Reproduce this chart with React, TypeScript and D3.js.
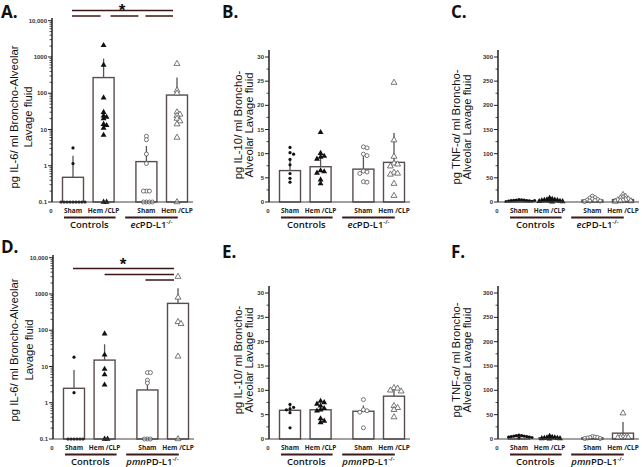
import React from 'react'
import * as d3 from 'd3'

const FONT = '"Liberation Sans", Arial, sans-serif'
const LABEL_FONT = '"Open Sans", "Liberation Sans", sans-serif'

// x slot of each bar: two control groups, gap, two knockout groups
const groupNames = ['Sham', 'Hem /CLP', 'Sham', 'Hem /CLP']
const slots = [0, 1, 2.4, 3.4]
const markerKinds = ['dot', 'tri', 'ring', 'otri']

// IL-6, ecPD-L1 cohort (log axis)
const il6EcMeans = [0.48, 270, 1.3, 89]
const il6EcErrTop = [1.9, 900, 3.5, 270]
const il6EcPoints = [
  [3.1, 1.15, 0.1, 0.1, 0.1, 0.1, 0.1, 0.1, 0.1, 0.1, 0.1],
  [2100, 600, 75, 30, 24, 22, 20, 14, 13, 11, 7, 0.1, 0.1],
  [6.5, 5.2, 2.1, 1.15, 0.2, 0.2, 0.2, 0.1, 0.1, 0.1, 0.1],
  [650, 120, 100, 30, 26, 24, 20, 17, 14, 6, 0.1],
]

// IL-10, ecPD-L1 cohort
const il10EcMeans = [6.5, 7.3, 6.8, 8.2]
const il10EcErrTop = [9.0, 10.1, 9.7, 14.3]
const il10EcPoints = [
  [11.3, 10.2, 9.9, 8.8, 7.7, 5.9, 4.9, 4.1],
  [14.4, 10.1, 9.5, 9.3, 8.9, 6.5, 6.3, 6.0, 4.6, 3.8],
  [11.4, 11.2, 9.9, 9.6, 6.4, 6.2, 5.9, 4.2, 4.1],
  [24.7, 12.8, 9.4, 8.0, 7.8, 7.4, 6.1, 5.9, 5.7, 3.8, 1.3],
]

// TNF-a, ecPD-L1 cohort
const tnfEcMeans = [3, 3, 4, 5]
const tnfEcErrTop = [4, 4.5, 6.5, 8]
const tnfEcPoints = [
  [5, 4.5, 4, 4, 3.5, 3, 3, 2.5, 2, 1.5, 1, 3],
  [8, 6, 5, 4.5, 4, 3.5, 3, 2.5, 2, 1.5, 1, 0.5],
  [12, 9, 8, 6, 5, 4, 3, 2, 2, 1],
  [15, 11, 9, 8, 6, 5, 4, 3, 2, 2, 1],
]

// IL-6, pmnPD-L1 cohort (log axis)
const il6PmnMeans = [2.5, 15, 2.25, 550]
const il6PmnErrTop = [8, 41, 4.2, 1440]
const il6PmnPoints = [
  [18, 1.9, 0.1, 0.1, 0.1, 0.1, 0.1, 0.1],
  [80, 21, 8.5, 6, 3.1, 0.1, 0.1],
  [6.8, 6.8, 4.2, 3.5, 0.1, 0.1, 0.1],
  [3000, 800, 170, 150, 19, 0.1],
]

// IL-10, pmnPD-L1 cohort
const il10PmnMeans = [5.9, 6.0, 5.7, 8.8]
const il10PmnErrTop = [7.2, 7.0, 6.9, 10.2]
const il10PmnPoints = [
  [7.1, 6.5, 6.2, 6.0, 5.4, 2.3],
  [7.8, 7.5, 7.2, 6.8, 6.3, 6.0, 5.8, 4.2, 3.7, 3.4],
  [8.1, 6.0, 5.8, 5.5, 2.3],
  [10.5, 10.4, 10.0, 9.8, 6.8, 6.4, 6.0, 4.5],
]

// TNF-a, pmnPD-L1 cohort
const tnfPmnMeans = [5, 2.5, 2.5, 12]
const tnfPmnErrTop = [6.5, 3.5, 3.5, 35]
const tnfPmnPoints = [
  [8, 7, 7, 6, 6, 5, 5, 4, 4, 3, 2],
  [6, 4, 3, 3, 2, 2, 1, 1, 0.5],
  [5, 4, 3, 3, 2, 1, 1],
  [53, 3.5, 3, 3, 3, 2.5],
]

const logTicks = [0.1, 1, 10, 100, 1000, 10000]
const logTickLabels = ['0.1', '1', '10', '100', '1000', '10,000']

type PanelDef = {
  letter: string
  letterY: number
  ox: number
  log: boolean
  domain: [number, number]
  range: [number, number]
  axisTop: number
  majorStep?: number
  label: string[]
  labelX: [number, number]
  labelY: number
  strain: string
  means: number[]
  errTop: number[]
  points: number[][]
  step: number
  sig?: { rows: number[]; star: [number, number]; pairs: [number, number, number, number, number][] }
}

// vertical offset of the lower row of panels
const DY = 237

const panels: PanelDef[] = [
  {
    letter: 'A.', letterY: 18, ox: 52, log: true, domain: [0.1, 10000], range: [202, 20.7], axisTop: 18,
    label: ['pg IL-6/ ml Broncho-Alveolar', 'Lavage fluid'], labelX: [14, 27.5], labelY: 117, strain: 'ec',
    means: il6EcMeans, errTop: il6EcErrTop, points: il6EcPoints, step: 3,
    sig: {
      rows: [10.5, 16], star: [122, 16],
      pairs: [[0, 3, 0, -1, -4], [0, 1, 1, -1, -3], [1, 2, 1, 7, -8], [2, 3, 1, -1, -4]],
    },
  },
  {
    letter: 'B.', letterY: 18, ox: 269, log: false, domain: [0, 30], range: [202, 57], axisTop: 50, majorStep: 5,
    label: ['pg IL-10/ ml Broncho-', 'Alveolar Lavage fluid'], labelX: [237.5, 248.5], labelY: 125, strain: 'ec',
    means: il10EcMeans, errTop: il10EcErrTop, points: il10EcPoints, step: 3.6,
  },
  {
    letter: 'C.', letterY: 18, ox: 498, log: false, domain: [0, 300], range: [202, 57], axisTop: 50, majorStep: 50,
    label: ['pg TNF-\u03b1/ ml Broncho-', 'Alveolar Lavage fluid'], labelX: [456, 467], labelY: 127, strain: 'ec',
    means: tnfEcMeans, errTop: tnfEcErrTop, points: tnfEcPoints, step: 2.6,
  },
  {
    letter: 'D.', letterY: 253, ox: 53, log: true, domain: [0.1, 10000], range: [439, 257.7], axisTop: 255,
    label: ['pg IL-6/ ml Broncho-Alveolar', 'Lavage fluid'], labelX: [14, 28.5], labelY: 350, strain: 'pmn',
    means: il6PmnMeans, errTop: il6PmnErrTop, points: il6PmnPoints, step: 3,
    sig: {
      rows: [268.5, 274.5, 280], star: [123, 270],
      pairs: [[0, 3, 0, -1, -4], [1, 3, 1, 0, -4], [2, 3, 2, -2, -4]],
    },
  },
  {
    letter: 'E.', letterY: 258, ox: 269, log: false, domain: [0, 30], range: [439, 293], axisTop: 286, majorStep: 5,
    label: ['pg IL-10/ ml Broncho-', 'Alveolar Lavage fluid'], labelX: [237.5, 248.5], labelY: 360, strain: 'pmn',
    means: il10PmnMeans, errTop: il10PmnErrTop, points: il10PmnPoints, step: 3.6,
  },
  {
    letter: 'F.', letterY: 258, ox: 498, log: false, domain: [0, 300], range: [439, 293], axisTop: 286, majorStep: 50,
    label: ['pg TNF-\u03b1/ ml Broncho-', 'Alveolar Lavage fluid'], labelX: [456, 467], labelY: 360, strain: 'pmn',
    means: tnfPmnMeans, errTop: tnfPmnErrTop, points: tnfPmnPoints, step: 2.6,
  },
]

// simple horizontal dodge so overlapping points spread sideways
function dodge(ys: number[], cx: number, step: number) {
  const placed: { x: number; y: number }[] = []
  ys.forEach(y => {
    for (let k = 0; k < 60; k++) {
      const off = k === 0 ? 0 : (k % 2 ? 1 : -1) * Math.ceil(k / 2) * step
      const px = cx + off
      if (!placed.some(p => Math.abs(p.x - px) < step * 0.95 && Math.abs(p.y - y) < step * 0.95)) {
        placed.push({ x: px, y })
        break
      }
    }
  })
  return placed
}

const triPath = d3.symbol().type(d3.symbolTriangle).size(15)() as string

function Marker({ kind, x, y }: { kind: string; x: number; y: number }) {
  if (kind === 'dot') return <circle cx={x} cy={y} r={1.6} fill="#111" />
  if (kind === 'ring') return <circle cx={x} cy={y} r={2} fill="#fff" stroke="#555" strokeWidth={0.8} />
  if (kind === 'tri') return <path d={triPath} transform={`translate(${x},${y})`} fill="#111" />
  return <path d={triPath} transform={`translate(${x},${y})`} fill="#fff" stroke="#555" strokeWidth={0.8} />
}

function Panel({ p }: { p: PanelDef }) {
  const y: any = p.log
    ? d3.scaleLog().domain(p.domain).range(p.range)
    : d3.scaleLinear().domain(p.domain).range(p.range)
  const x = d3.scaleLinear().domain([0, 3.4]).range([p.ox + 21, p.ox + 125])
  const base = p.range[0]
  const off = base > 300 ? DY : 0

  let majors: number[]
  let minors: number[]
  if (p.log) {
    majors = logTicks
    minors = y.ticks().filter((t: number) => !majors.some(m => Math.abs(m - t) < 1e-9))
  } else {
    majors = d3.range(p.domain[0], p.domain[1] + 0.01, p.majorStep!)
    minors = d3.range(p.domain[0] + p.majorStep! / 2, p.domain[1], p.majorStep!)
  }
  const fmt = (t: number, i: number) => (p.log ? logTickLabels[i] : String(t))
  const barW = 21
  const strainX = (x(2) + x(3)) / 2 + 2
  const ctrlX = (x(0) + x(1)) / 2 + 1

  return (
    <g>
      <text x={p.ox < 100 ? 1 : p.ox - 47} y={p.letterY} fontFamily={LABEL_FONT} fontWeight={700} fontSize={17} fill="#111">
        {p.letter}
      </text>

      {/* y label */}
      {p.label.map((l, i) => (
        <text key={i} transform={`translate(${p.labelX[i]},${p.labelY}) rotate(-90)`} textAnchor="middle"
          dominantBaseline="central" fontFamily={FONT} fontSize={11.3} fill="#111">{l}</text>
      ))}

      {/* bars */}
      {p.means.map((m, i) => (
        <rect key={i} x={x(slots[i]) - barW / 2} y={y(m)} width={barW} height={base - y(m)}
          fill="#fff" stroke="#5a4c4c" strokeWidth={1.4} />
      ))}
      {/* error whiskers */}
      {p.errTop.map((e, i) => (
        <line key={i} x1={x(slots[i])} x2={x(slots[i])} y1={y(p.means[i])} y2={y(e)} stroke="#555" strokeWidth={1.3} />
      ))}
      {/* points */}
      {p.points.map((vals, i) =>
        dodge(vals.map(v => y(v)), x(slots[i]), p.step).map((pt, j) => (
          <Marker key={`${i}-${j}`} kind={markerKinds[i]} x={pt.x} y={pt.y} />
        ))
      )}

      {/* axes */}
      <line x1={p.ox} x2={p.ox + 141} y1={base} y2={base} stroke="#444" strokeWidth={1.2} />
      <line x1={p.ox} x2={p.ox} y1={p.axisTop} y2={base} stroke="#222" strokeWidth={1.5} />
      {majors.map(t => (
        <line key={`M${t}`} x1={p.ox - 4} x2={p.ox} y1={y(t)} y2={y(t)} stroke="#222" strokeWidth={1} />
      ))}
      {minors.map(t => (
        <line key={`m${t}`} x1={p.ox - 2.5} x2={p.ox} y1={y(t)} y2={y(t)} stroke="#222" strokeWidth={0.8} />
      ))}
      {majors.map((t, i) => (
        <text key={`L${t}`} x={p.ox - 5} y={y(t)} dy="0.35em" textAnchor="end" fontFamily={FONT}
          fontSize={6} fontWeight={700} fill="#333">{fmt(t, i)}</text>
      ))}
      <text x={p.ox - 1} y={211 + off} dy="0.35em" textAnchor="middle" fontFamily={FONT} fontSize={6}
        fontWeight={700} fill="#333">0</text>

      {/* group labels */}
      {groupNames.map((g, i) => (
        <text key={i} x={x(slots[i])} y={213 + off} textAnchor="middle" fontFamily={LABEL_FONT} fontSize={6.5}
          fontWeight={700} fill="#222">{g}</text>
      ))}
      <line x1={x(0) - 9} x2={x(1) + 12} y1={217.5 + off} y2={217.5 + off} stroke="#3d1a1a" strokeWidth={2} />
      <line x1={x(2) - 9} x2={x(3) + 13} y1={217.5 + off} y2={217.5 + off} stroke="#3d1a1a" strokeWidth={2} />
      <text x={ctrlX} y={228 + off} textAnchor="middle" fontFamily={LABEL_FONT} fontSize={9.5} fontWeight={600}
        fill="#111">Controls</text>
      <text x={strainX} y={228 + off} textAnchor="middle" fontFamily={LABEL_FONT} fontSize={9.5} fontWeight={600}
        fill="#111">
        <tspan fontStyle="italic">{p.strain}</tspan>PD-L1<tspan fontSize={6} dy={-4}>-/-</tspan>
      </text>

      {/* significance brackets */}
      {p.sig && (
        <g>
          {p.sig.pairs.map(([a, b, r, pl, pr], i) => (
            <line key={i} x1={x(slots[a]) + pl} x2={x(slots[b]) + pr} y1={p.sig!.rows[r]} y2={p.sig!.rows[r]}
              stroke="#3a1616" strokeWidth={1.5} />
          ))}
          <text x={p.sig.star[0]} y={p.sig.star[1]} textAnchor="middle" fontFamily={FONT} fontSize={17}
            fontWeight={700} fill="#111">*</text>
        </g>
      )}
    </g>
  )
}

export default function App() {
  return (
    <div style={{ position: 'fixed', left: 0, top: 0 }}>
      <svg width={642} height={467} style={{ display: 'block', background: '#fff' }}>
        {panels.map(p => <Panel key={p.letter} p={p} />)}
      </svg>
    </div>
  )
}
